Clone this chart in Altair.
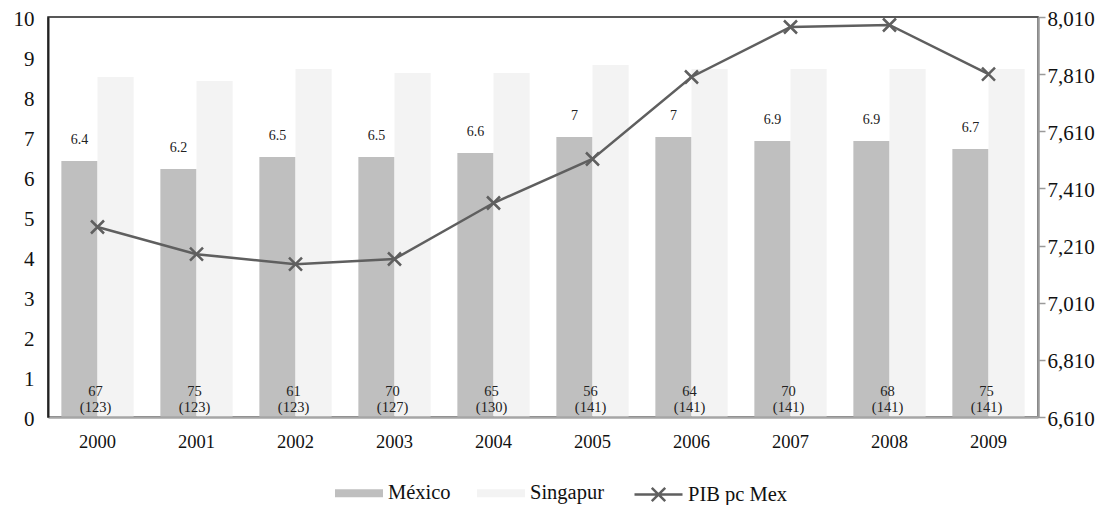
import altair as alt
import pandas as pd

years = ["2000", "2001", "2002", "2003", "2004", "2005", "2006", "2007", "2008", "2009"]
mexico = [6.4, 6.2, 6.5, 6.5, 6.6, 7.0, 7.0, 6.9, 6.9, 6.7]
singapur = [8.5, 8.4, 8.7, 8.6, 8.6, 8.8, 8.7, 8.7, 8.7, 8.7]
pib_pc_mex = [7275, 7180, 7145, 7163, 7359, 7513, 7800, 7975, 7982, 7810]
rank_mex = [67, 75, 61, 70, 65, 56, 64, 70, 68, 75]
total_countries = [123, 123, 123, 127, 130, 141, 141, 141, 141, 141]
left_ticks = [0, 1, 2, 3, 4, 5, 6, 7, 8, 9, 10]
right_ticks = [6610, 6810, 7010, 7210, 7410, 7610, 7810, 8010]

bar_series = ["México", "Singapur"]
bar_colors = ["#bfbfbf", "#f3f3f3"]
line_series = ["PIB pc Mex"]
line_colors = ["#5f5f5f"]

bars_df = pd.DataFrame({
    "year": years * 2,
    "series": ["México"] * len(years) + ["Singapur"] * len(years),
    "value": mexico + singapur,
})
mex_df = pd.DataFrame({
    "year": years,
    "series": ["México"] * len(years),
    "value": mexico,
    "label": [f"{v:g}" for v in mexico],
    "rank": [str(r) for r in rank_mex],
    "total": [f"({t})" for t in total_countries],
})
line_df = pd.DataFrame({
    "year": years,
    "series": ["PIB pc Mex"] * len(years),
    "pib": pib_pc_mex,
})

FONT = "Liberation Serif"
CROSS = "M-1,-1L1,1M-1,1L1,-1"
RECT = "M-1,-0.17H1V0.17H-1Z"
LEG_LINE = "M-1,0H1M-0.28,-0.28L0.28,0.28M-0.28,0.28L0.28,-0.28"

x_enc = alt.X(
    "year:N",
    sort=years,
    scale=alt.Scale(paddingInner=0.27, paddingOuter=0.135),
    axis=alt.Axis(title=None, labelAngle=0, ticks=False, domainColor="#a6a6a6",
                  domainWidth=2.5, labelFontSize=18.5, labelPadding=15,
                  labelColor="#111", zindex=1),
)

left_axis = alt.Axis(title=None, values=left_ticks, grid=False, ticks=False,
                     domainColor="#222", domainWidth=2, labelFontSize=21,
                     labelPadding=14, labelOffset=2, labelColor="#111", zindex=1)
left_scale = alt.Scale(domain=[0, 10], nice=False)

right_axis = alt.Axis(orient="right", title=None, values=right_ticks, format=",.0f",
                      grid=False, domainColor="#9a9a9a", domainWidth=2.5,
                      tickColor="#9a9a9a", tickSize=7, tickWidth=1.5, labelPadding=2,
                      labelOffset=2, labelFontSize=21, labelColor="#111", zindex=1)
right_scale = alt.Scale(domain=[6610, 8010], nice=False, zero=False)

bar_legend = alt.Legend(
    orient="none", legendX=287, legendY=452, direction="horizontal", title=None,
    labelFont=FONT, labelFontSize=20.5, labelColor="#111", symbolSize=2304,
    symbolType=RECT, labelOffset=5, columnPadding=26, symbolStrokeWidth=0,
    symbolOpacity=1,
)
line_legend = alt.Legend(
    orient="none", legendX=585, legendY=452, direction="horizontal", title=None,
    labelFont=FONT, labelFontSize=20.5, labelColor="#111", symbolSize=2304,
    symbolType=LEG_LINE, labelOffset=4, symbolStrokeWidth=2.5, symbolOpacity=1,
)

bars = alt.Chart(bars_df).mark_bar().encode(
    x=x_enc,
    xOffset=alt.XOffset("series:N", scale=alt.Scale(domain=bar_series,
                                                     paddingInner=0, paddingOuter=0)),
    y=alt.Y("value:Q", scale=left_scale, axis=left_axis),
    color=alt.Color("series:N", scale=alt.Scale(domain=bar_series, range=bar_colors),
                    legend=bar_legend),
)

value_labels = alt.Chart(mex_df).mark_text(
    font=FONT, fontSize=14, color="#222", baseline="middle", dy=-21
).encode(
    x=alt.X("year:N", sort=years),
    xOffset=alt.XOffset("series:N"),
    y=alt.Y("value:Q", scale=left_scale, axis=left_axis),
    text="label:N",
)

rank_labels = alt.Chart(mex_df).mark_text(
    font=FONT, fontSize=14.5, color="#222", baseline="middle", dy=-25, dx=-2
).encode(
    x=alt.X("year:N", sort=years),
    y=alt.YDatum(0, scale=left_scale, axis=left_axis),
    text="rank:N",
)

total_labels = alt.Chart(mex_df).mark_text(
    font=FONT, fontSize=14.5, color="#222", baseline="middle", dy=-9, dx=-2
).encode(
    x=alt.X("year:N", sort=years),
    y=alt.YDatum(0, scale=left_scale, axis=left_axis),
    text="total:N",
)

left_layer = alt.layer(bars, value_labels, rank_labels, total_labels)

stroke_enc = alt.Stroke("series:N", scale=alt.Scale(domain=line_series, range=line_colors),
                        legend=line_legend)

line = alt.Chart(line_df).mark_line(strokeWidth=2.5).encode(
    x=alt.X("year:N", sort=years),
    y=alt.Y("pib:Q", scale=right_scale, axis=right_axis),
    stroke=stroke_enc,
)
points = alt.Chart(line_df).mark_point(
    shape=CROSS, filled=False, size=169, strokeWidth=2.5, opacity=1
).encode(
    x=alt.X("year:N", sort=years),
    y=alt.Y("pib:Q", scale=right_scale, axis=right_axis),
    stroke=stroke_enc,
)
right_layer = alt.layer(line, points)

chart = alt.layer(left_layer, right_layer).resolve_scale(y="independent").properties(
    width=990, height=400,
    autosize=alt.AutoSizeParams(type="none"),
    padding={"left": 40, "top": 9, "right": 60, "bottom": 88},
).configure(
    font=FONT,
).configure_view(
    stroke="#222", strokeWidth=1.5,
).configure_axis(
    labelFont=FONT,
)

chart.save("out.html", embed_options={"renderer": "svg", "actions": False})
